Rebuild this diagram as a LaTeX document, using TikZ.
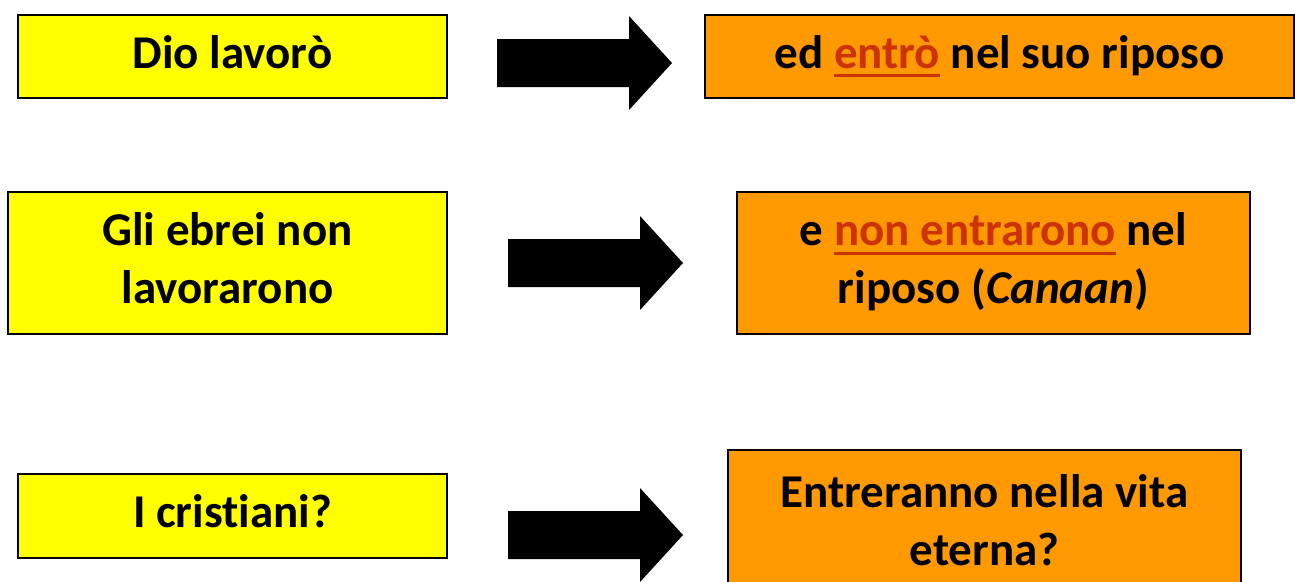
\documentclass[tikz,border=0pt]{standalone}
\usepackage{fontspec}
\setmainfont{Carlito}[Ligatures=CommonOff]
\usetikzlibrary{shapes}
\definecolor{boxyellow}{HTML}{FFFF00}
\definecolor{boxorange}{HTML}{FF9900}
\definecolor{hilite}{HTML}{CC3300}
\newcommand{\redword}[1]{\textcolor{hilite}{\setbox0\hbox{#1}\rlap{\rule[-9pt]{\wd0}{3pt}}\box0}}
\tikzstyle{fact}=[rectangle,draw=black,line width=1.5pt,inner sep=0pt,align=center,font=\fontsize{47}{58}\selectfont\bfseries]
\tikzstyle{cause}=[fact,fill=boxyellow]
\tikzstyle{effect}=[fact,fill=boxorange]
\tikzstyle{bigarrow}=[fill=black]

\begin{document}
\begin{tikzpicture}[x=1pt,y=-1pt]
    \useasboundingbox (0,0) rectangle (1295,581);
    % First we draw the yellow boxes on the left
    \foreach \pos/\name/\w/\h/\txt in {{(232.5,56.5)/dio/429/83/{\strut Dio lavorò}},
        {(227.5,263)/ebrei/439/142/{\strut Gli ebrei non\\\strut lavorarono}},
        {(232.5,516)/cristiani/429/84/{\strut I cristiani?}}}
        \node[cause,minimum width=\w,minimum height=\h] (\name) at \pos {\txt};

    % then the orange boxes on the right
    \foreach \pos/\name/\w/\h/\txt in {{(999.5,56.5)/riposo/589/83/{\strut ed \redword{entrò} nel suo riposo}},
        {(993.5,263)/canaan/513/142/{\strut e \redword{non entrarono} nel\\\strut riposo (\textit{Canaan})}},
        {(984.5,525)/vita/513/150/{\strut Entreranno nella vita\\\strut eterna?}}}
        \node[effect,minimum width=\w,minimum height=\h] (\name) at \pos {\txt};

    % Block arrows between them
    \foreach \x/\y in {497/63, 508/263, 508/535}
        \fill[bigarrow] (\x,\y-24) -- (\x+132,\y-24) -- (\x+132,\y-47) -- (\x+175,\y)
            -- (\x+132,\y+47) -- (\x+132,\y+24) -- (\x,\y+24) -- cycle;

\end{tikzpicture}
\end{document}
